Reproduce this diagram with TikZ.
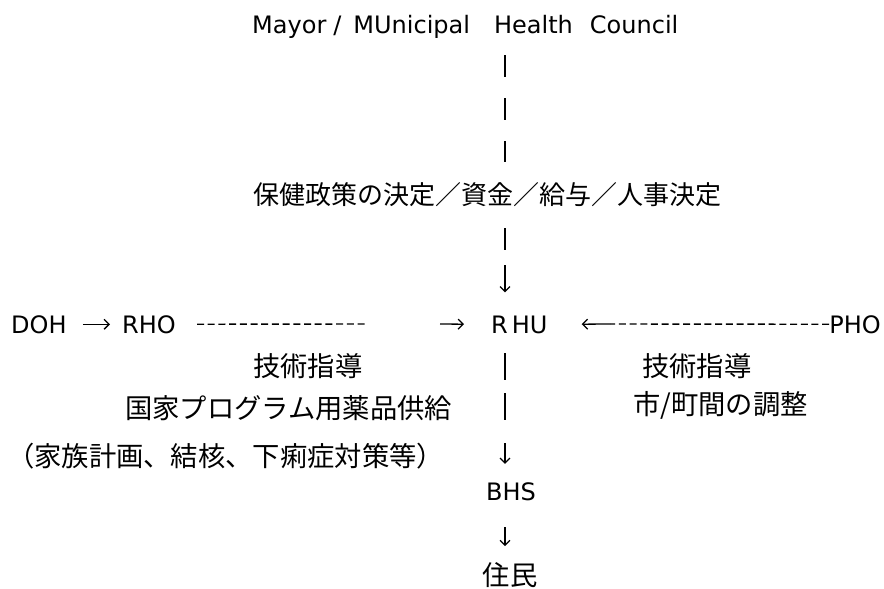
\documentclass[tikz,border=0pt]{standalone}
\usepackage{fontspec}
\setmainfont{DejaVu Sans}
\newfontfamily\jpfont{Noto Sans CJK JP}
\usetikzlibrary{arrows.meta}
\begin{document}
\begin{tikzpicture}[x=1pt,y=-1pt,
  lat/.style={inner sep=0pt, font=\fontsize{24}{28}\selectfont},
  jp/.style={inner sep=0pt, font=\jpfont\fontsize{27.3}{32}\selectfont},
  bar/.style={line width=1.8pt},
  rowdash/.style={line width=1.4pt, dash pattern=on 7pt off 3.7pt},
  arr/.style={line width=1.3pt, -{Straight Barb[length=5pt,width=10pt,line width=1.3pt]}},
]
\useasboundingbox[fill=white] (0,0) rectangle (884,589);

\node[lat, anchor=base west] (mayor) at (252,33)
  {Mayor\hspace{7pt}/\hspace{12pt}MUnicipal\hspace{24pt}Health\hspace{17pt}Council};
\node[jp, font=\jpfont\fontsize{26}{30}\selectfont, anchor=west] (policy) at (253,195) {保健政策の決定／資金／給与／人事決定};
\node[lat, anchor=base west] (doh) at (11,333) {DOH};
\node[lat, anchor=base west] (rho) at (122,333) {RHO};
\node[lat, anchor=base west] (rhu) at (491,333) {R\kern4pt HU};
\node[lat, anchor=base east] (pho) at (881,333) {PHO};
\node[jp, anchor=west] (tl1) at (253,366) {技術指導};
\node[jp, anchor=west] (tl2) at (125,408) {国家プログラム用薬品供給};
\node[jp, anchor=west] (tl3) at (7,456) {（家族計画、結核、下痢症対策等）};
\node[jp, anchor=west] (tr1) at (642,366) {技術指導};
\node[jp, anchor=west] (tr2) at (633,405) {市/町間の調整};
\node[lat, anchor=base] (bhs) at (511,500) {BHS};
\node[jp, anchor=center] (jumin) at (510,575) {住民};

\coordinate (axis) at (505,0);
\coordinate (d1) at (368,324);
\coordinate (a1) at (440,324);
\coordinate (d2) at (610,324);

% Mayor -> policy
\draw[bar, dash pattern=on 22pt off 21pt, shorten <=22pt, shorten >=33pt]
  (mayor.base -| axis) -- (policy.center -| axis);
% policy -> RHU
\draw[arr, line width=1.6pt, dash pattern=on 22pt off 15pt on 200pt, shorten <=33pt, shorten >=32pt]
  (policy.center -| axis) -- (rhu.center -| axis);
% DOH -> RHO
\draw[arr, shorten <=16pt, shorten >=12pt] (doh.east) -- (rho.west);
% RHO -> RHU
\draw[rowdash, shorten <=21pt] (rho.east) -- (d1);
\draw[arr, shorten >=27pt] (a1) -- (rhu.west);
% PHO -> RHU
\draw[rowdash] (pho.west) -- (d2);
\draw[arr, shorten >=34pt] (d2) -- (rhu.east);
% RHU -> BHS
\draw[arr, line width=1.6pt, dash pattern=on 27pt off 13pt on 27pt off 23pt on 60pt, shorten <=20pt, shorten >=18pt]
  (rhu.base -| axis) -- (bhs.north -| axis);
% BHS -> residents
\draw[arr, shorten <=27pt, shorten >=16pt] (bhs.base -| axis) -- (jumin.north -| axis);
\end{tikzpicture}
\end{document}
